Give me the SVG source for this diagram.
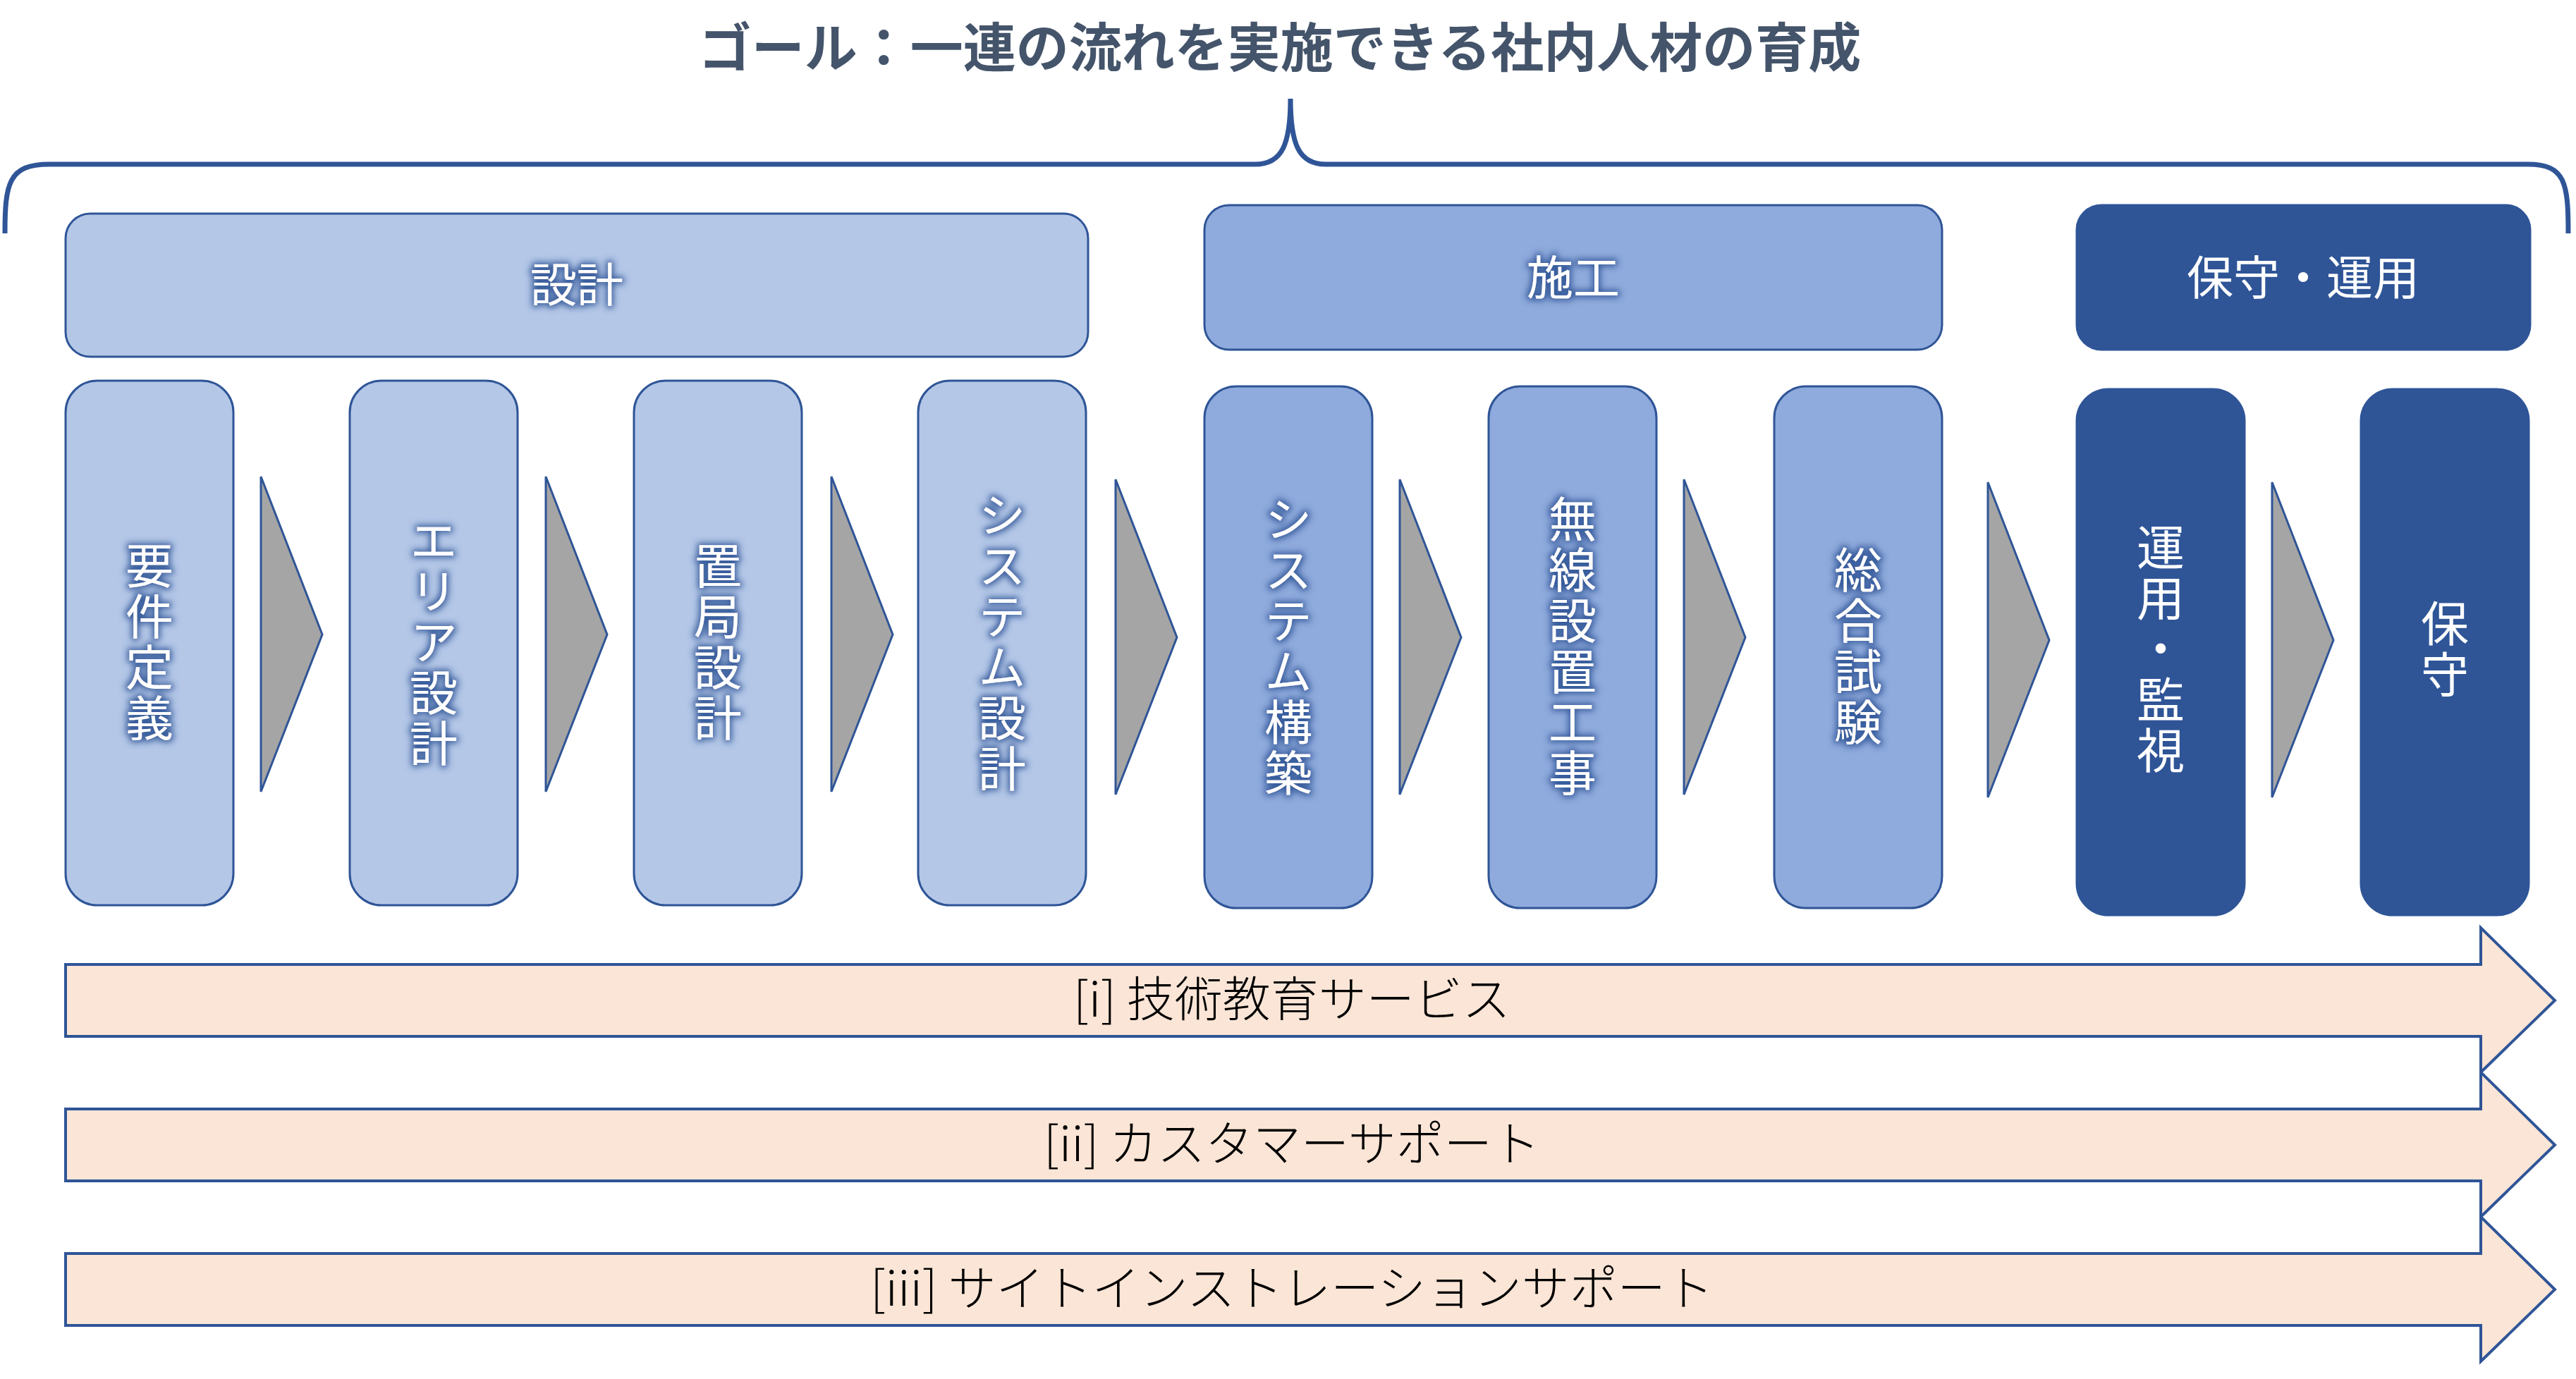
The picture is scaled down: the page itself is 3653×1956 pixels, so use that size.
<svg xmlns="http://www.w3.org/2000/svg" width="3653" height="1956" viewBox="0 0 3653 1956">
<defs>
<filter id="glow" x="-30%" y="-30%" width="160%" height="160%">
<feMorphology in="SourceAlpha" operator="dilate" radius="3" result="d"/>
<feGaussianBlur in="d" stdDeviation="5" result="b"/>
<feFlood flood-color="#2f5597" flood-opacity="0.9"/>
<feComposite in2="b" operator="in" result="g"/>
<feMerge><feMergeNode in="g"/><feMergeNode in="SourceGraphic"/></feMerge>
</filter>
</defs>
<style>
text{font-family:"Noto Sans CJK JP","Noto Sans",sans-serif}
.l{fill:#b4c7e7;stroke:#2f5597;stroke-width:3}
.m{fill:#8faadc;stroke:#2f5597;stroke-width:3}
.d{fill:#2f5597;stroke:#2f5597;stroke-width:3}
.chev{fill:#a5a5a5;stroke:#2f5597;stroke-width:3}
.arr{fill:#fbe5d6;stroke:#2f5597;stroke-width:4}
.ht{fill:#fff;font-size:66px;text-anchor:middle}
.vt{fill:#fff;font-size:68px;writing-mode:vertical-rl;text-anchor:middle;letter-spacing:4px}
.g{filter:url(#glow)}
.at{fill:#000;font-size:68px;text-anchor:middle;font-weight:300}
</style>
<rect width="3653" height="1956" fill="#fff"/>
<text x="1815" y="95" font-size="75" font-weight="bold" fill="#44546a" text-anchor="middle">ゴール：一連の流れを実施できる社内人材の育成</text>
<path d="M7,331 C7,260 12,233 70,233 L1780,233 C1818,233 1830,205 1830,140 C1830,205 1842,233 1880,233 L3585,233 C3638,233 3642,260 3642,331" fill="none" stroke="#2f5597" stroke-width="7"/>
<g id="h1"><rect class="l" x="93" y="303" width="1450" height="203" rx="35"/><text class="ht g" x="818" y="428">設計</text></g>
<g id="h2"><rect class="m" x="1708" y="291" width="1046" height="205" rx="35"/><text class="ht g" x="2231" y="418">施工</text></g>
<g id="h3"><rect class="d" x="2945" y="291" width="643" height="205" rx="35"/><text class="ht" x="3266" y="418">保守・運用</text></g>
<g id="connectors">
<polygon class="chev" points="370,676 457,900 370,1123"/>
<polygon class="chev" points="774,676 861,900 774,1123"/>
<polygon class="chev" points="1179,676 1266,900 1179,1123"/>
<polygon class="chev" points="1582,680 1669,904 1582,1127"/>
<polygon class="chev" points="1985,680 2072,904 1985,1127"/>
<polygon class="chev" points="2388,680 2475,904 2388,1127"/>
<polygon class="chev" points="2819,684 2906,908 2819,1131"/>
<polygon class="chev" points="3222,684 3309,908 3222,1131"/>
</g>
<g id="s1"><rect class="l" x="93" y="540" width="238" height="744" rx="45"/><text class="vt g" x="212" y="912">要件定義</text></g>
<g id="s2"><rect class="l" x="496" y="540" width="238" height="744" rx="45"/><text class="vt g" x="615" y="912">エリア設計</text></g>
<g id="s3"><rect class="l" x="899" y="540" width="238" height="744" rx="45"/><text class="vt g" x="1018" y="912">置局設計</text></g>
<g id="s4"><rect class="l" x="1302" y="540" width="238" height="744" rx="45"/><text class="vt g" x="1421" y="912">システム設計</text></g>
<g id="s5"><rect class="m" x="1708" y="548" width="238" height="740" rx="45"/><text class="vt g" x="1827" y="918">システム構築</text></g>
<g id="s6"><rect class="m" x="2111" y="548" width="238" height="740" rx="45"/><text class="vt g" x="2230" y="918">無線設置工事</text></g>
<g id="s7"><rect class="m" x="2516" y="548" width="238" height="740" rx="45"/><text class="vt g" x="2635" y="918">総合試験</text></g>
<g id="s8"><rect class="d" x="2945" y="552" width="238" height="746" rx="45"/><text class="vt" x="3064" y="922">運用・監視</text></g>
<g id="s9"><rect class="d" x="3348" y="552" width="238" height="746" rx="45"/><text class="vt" x="3467" y="922">保守</text></g>
<g id="a3"><polygon class="arr" points="93,1778 3518,1778 3518,1726 3623,1829 3518,1931 3518,1880 93,1880"/><text class="at" x="1832" y="1852">[iii] サイトインストレーションサポート</text></g>
<g id="a2"><polygon class="arr" points="93,1573 3518,1573 3518,1521 3623,1624 3518,1726 3518,1675 93,1675"/><text class="at" x="1832" y="1647">[ii] カスタマーサポート</text></g>
<g id="a1"><polygon class="arr" points="93,1368 3518,1368 3518,1316 3623,1419 3518,1521 3518,1470 93,1470"/><text class="at" x="1832" y="1442">[i] 技術教育サービス</text></g>
</svg>
